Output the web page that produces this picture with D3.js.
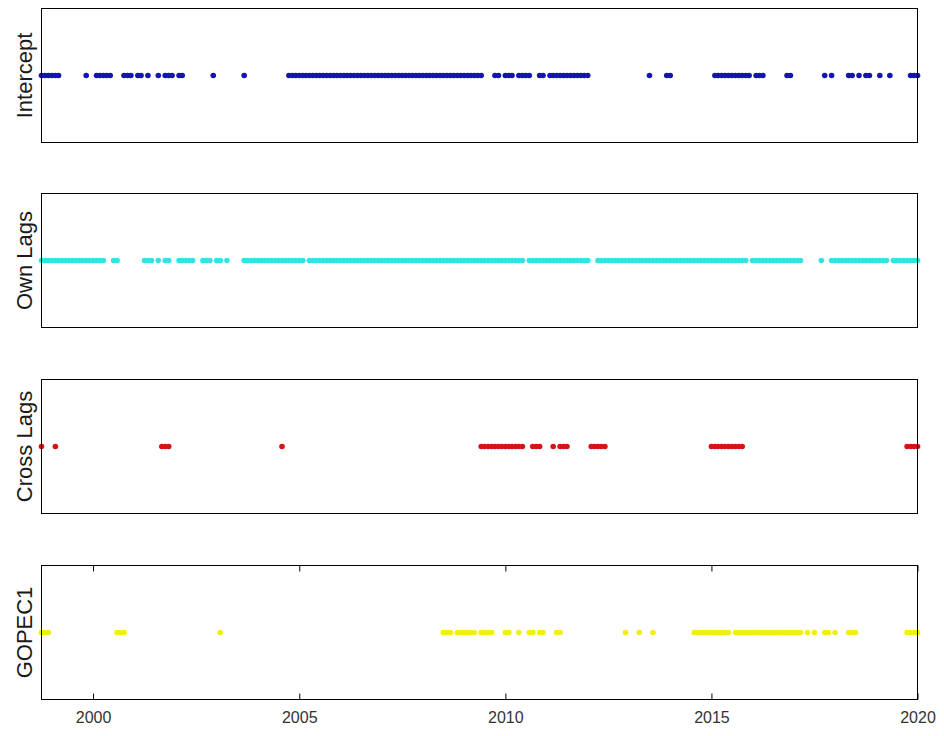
<!DOCTYPE html>
<html>
<head>
<meta charset="utf-8">
<script src="https://cdn.jsdelivr.net/npm/d3@7"></script>
<style>
  body { margin: 0; background: #fff; }
  svg { display: block; font-family: "Liberation Sans", Arial, sans-serif; }
</style>
</head>
<body>
<svg id="chart" width="944" height="736"></svg>
<script>
// Months where each block is included, stored as runs [first, last] ("YYYY-MM")
const interceptRuns = [
    ["1998-10", "1999-03"], ["1999-11", "1999-11"], ["2000-02", "2000-06"],
    ["2000-10", "2000-12"], ["2001-02", "2001-03"], ["2001-05", "2001-05"],
    ["2001-08", "2001-08"], ["2001-10", "2001-12"], ["2002-02", "2002-03"],
    ["2002-12", "2002-12"], ["2003-09", "2003-09"], ["2004-10", "2009-06"],
    ["2009-10", "2009-11"], ["2010-01", "2010-03"], ["2010-05", "2010-08"],
    ["2010-11", "2010-12"], ["2011-02", "2012-01"], ["2013-07", "2013-07"],
    ["2013-12", "2014-01"], ["2015-02", "2015-12"], ["2016-02", "2016-04"],
    ["2016-11", "2016-12"], ["2017-10", "2017-10"], ["2017-12", "2017-12"],
    ["2018-05", "2018-06"], ["2018-08", "2018-08"], ["2018-10", "2018-11"],
    ["2019-02", "2019-02"], ["2019-05", "2019-05"], ["2019-11", "2020-01"]
];

const ownLagsRuns = [
    ["1998-10", "2000-04"], ["2000-07", "2000-08"],
    ["2001-04", "2001-06"], ["2001-08", "2001-08"], ["2001-10", "2001-11"],
    ["2002-02", "2002-06"], ["2002-09", "2002-11"], ["2003-01", "2003-02"],
    ["2003-04", "2003-04"], ["2003-09", "2005-02"], ["2005-04", "2010-06"],
    ["2010-08", "2011-05"], ["2011-06", "2011-11"], ["2011-12", "2012-01"],
    ["2012-04", "2015-05"], ["2015-06", "2015-11"], ["2016-01", "2017-03"],
    ["2017-09", "2017-09"], ["2017-12", "2019-04"], ["2019-06", "2020-01"]
];

const crossLagsRuns = [
    ["1998-10", "1998-10"], ["1999-02", "1999-02"], ["2001-09", "2001-11"],
    ["2004-08", "2004-08"], ["2009-06", "2010-06"], ["2010-09", "2010-11"],
    ["2011-03", "2011-03"], ["2011-05", "2011-07"], ["2012-02", "2012-06"],
    ["2015-01", "2015-10"], ["2019-10", "2020-01"]
];

const gopecRuns = [
    ["1998-10", "1998-12"], ["2000-08", "2000-10"], ["2003-02", "2003-02"],
    ["2008-07", "2008-09"], ["2008-11", "2009-04"], ["2009-06", "2009-09"],
    ["2010-01", "2010-02"], ["2010-05", "2010-05"], ["2010-08", "2010-09"],
    ["2010-11", "2010-12"], ["2011-04", "2011-05"], ["2012-12", "2012-12"],
    ["2013-04", "2013-04"], ["2013-08", "2013-08"], ["2014-08", "2015-06"],
    ["2015-08", "2017-03"], ["2017-05", "2017-05"], ["2017-07", "2017-07"],
    ["2017-10", "2017-11"], ["2018-01", "2018-01"], ["2018-05", "2018-07"],
    ["2019-10", "2020-01"]
];

const panelLabels = ["Intercept", "Own Lags", "Cross Lags", "GOPEC1"];
const panelRuns = [interceptRuns, ownLagsRuns, crossLagsRuns, gopecRuns];
const panelColors = ["#1414b0", "#30e4e4", "#d41414", "#f0f010"];
const tickYears = [2000, 2005, 2010, 2015, 2020];
const xStart = "1998-10";
const xEnd = "2020-01";

const parseMonth = d3.timeParse("%Y-%m");

// Turn runs into one date per month
function expandRuns(runs) {
    const dates = [];
    runs.forEach(([a, b]) => {
        const end = parseMonth(b);
        d3.timeMonth.range(parseMonth(a), d3.timeMonth.offset(end, 1))
            .forEach(d => dates.push(d));
    });
    return dates;
}

const svg = d3.select("#chart");
const margin = { left: 41.5, right: 26.5 };
const width = 944 - margin.left - margin.right;
const panelTops = [8, 193, 379, 565];
const panelHeight = 134;

const x = d3.scaleTime()
    .domain([parseMonth(xStart), parseMonth(xEnd)])
    .range([0, width]);

const y = d3.scaleLinear().domain([0, 2]).range([panelHeight, 0]);

panelLabels.forEach((label, i) => {
    const g = svg.append("g")
        .attr("transform", `translate(${margin.left},${panelTops[i] + 0.5})`);

    const dates = expandRuns(panelRuns[i]);

    g.selectAll("circle")
        .data(dates)
        .join("circle")
        .attr("cx", d => x(d))
        .attr("cy", y(1))
        .attr("r", 2.8)
        .attr("fill", panelColors[i]);

    // box
    g.append("rect")
        .attr("width", width)
        .attr("height", panelHeight)
        .attr("fill", "none")
        .attr("stroke", "#000")
        .attr("stroke-width", 1);

    g.append("text")
        .attr("transform", `translate(-10,${panelHeight / 2}) rotate(-90)`)
        .attr("text-anchor", "middle")
        .attr("font-size", 22)
        .attr("fill", "#1a1a1a")
        .text(label);

    // x ticks only on the last panel, inside the box
    if (i === panelLabels.length - 1) {
        const tickDates = tickYears.map(yr => new Date(yr, 0, 1));
        const bottom = g.append("g")
            .attr("transform", `translate(0,${panelHeight})`)
            .call(d3.axisBottom(x)
                .tickValues(tickDates)
                .tickFormat(d3.timeFormat("%Y"))
                .tickSizeInner(-6)
                .tickSizeOuter(0)
                .tickPadding(12));
        bottom.select(".domain").remove();
        bottom.selectAll("text")
            .attr("font-size", 16)
            .attr("fill", "#333");
        bottom.selectAll("line").attr("stroke", "#000");

        const top = g.append("g")
            .call(d3.axisTop(x)
                .tickValues(tickDates)
                .tickSizeInner(-6)
                .tickSizeOuter(0)
                .tickFormat(""));
        top.select(".domain").remove();
        top.selectAll("line").attr("stroke", "#000");
    }
});
</script>
</body>
</html>
